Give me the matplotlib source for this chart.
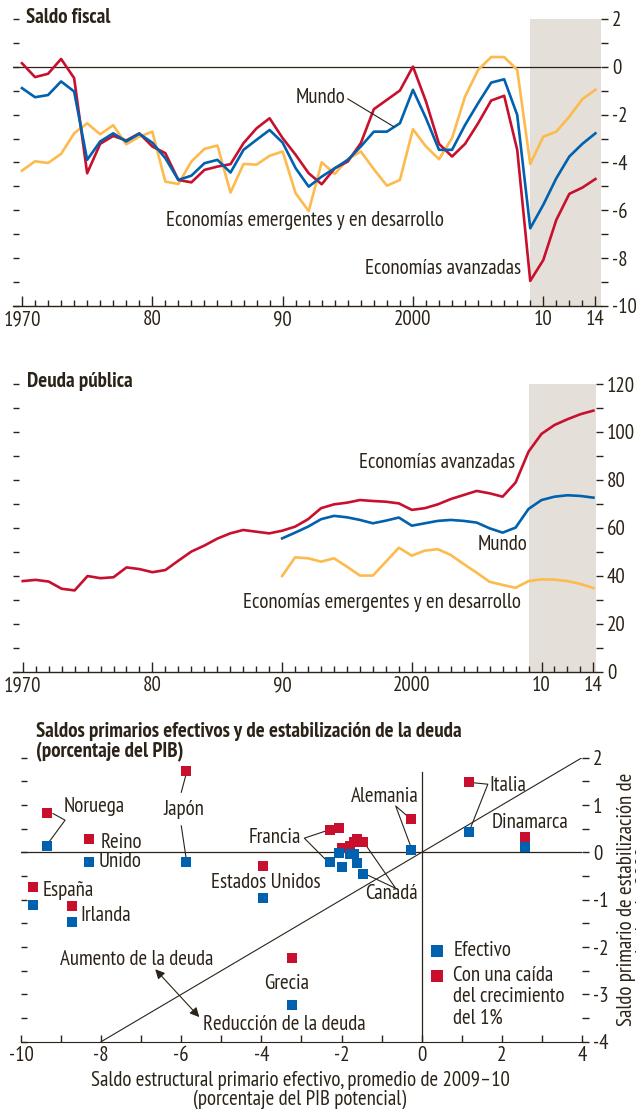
import matplotlib
matplotlib.use("Agg")
import matplotlib.pyplot as plt
import numpy as np

plt.rcParams['font.family'] = ['PT Sans Narrow', 'Roboto Condensed', 'Archivo Narrow',
                               'Roboto', 'DejaVu Sans']

RED = '#C8102E'
BLUE = '#0061AF'
YEL = '#FDBA4D'
SHADE = '#E4E0D9'
TXT = '#2B2318'

# ---------------- data: Saldo fiscal ----------------
years_fiscal = list(range(1970, 2015))
fiscal_avanzadas = [0.15, -0.43, -0.29, 0.33, -0.47, -4.45, -3.22, -2.89, -3.08, -2.78,
                    -3.33, -3.61, -4.73, -4.83, -4.31, -4.17, -4.07, -3.19, -2.57, -2.15,
                    -2.98, -3.68, -4.45, -4.91, -4.24, -3.96, -3.19, -1.77, -1.38, -0.99,
                    0.01, -1.45, -3.22, -3.75, -3.22, -2.36, -1.41, -1.21, -3.47, -8.95,
                    -8.08, -6.40, -5.31, -5.05, -4.69]
fiscal_mundo = [-0.89, -1.27, -1.18, -0.61, -1.03, -3.89, -3.12, -2.78, -3.12, -2.80,
                -3.17, -3.82, -4.73, -4.55, -4.03, -3.89, -4.42, -3.47, -3.05, -2.64,
                -3.17, -4.24, -5.01, -4.59, -4.24, -3.89, -3.33, -2.71, -2.71, -2.36,
                -0.96, -2.15, -3.47, -3.47, -2.43, -1.52, -0.66, -0.52, -2.01, -6.75,
                -5.77, -4.66, -3.75, -3.22, -2.78]
fiscal_emergentes = [-4.34, -3.95, -4.02, -3.64, -2.78, -2.36, -2.82, -2.44, -3.24, -2.92,
                     -2.71, -4.80, -4.90, -3.96, -3.43, -3.29, -5.26, -4.06, -4.09, -3.72,
                     -3.54, -5.29, -6.03, -3.99, -4.48, -3.86, -3.54, -4.28, -4.97, -4.73,
                     -2.61, -3.33, -3.86, -2.98, -1.24, -0.13, 0.41, 0.41, -0.13, -4.06,
                     -2.92, -2.71, -2.08, -1.35, -0.96]

# ---------------- data: Deuda pública ----------------
years_deuda_av = list(range(1970, 2015))
deuda_avanzadas = [37.8, 38.3, 37.6, 34.6, 33.9, 39.9, 39.0, 39.4, 43.5, 42.8,
                   41.5, 42.4, 46.3, 50.1, 52.6, 55.5, 57.7, 59.1, 58.4, 57.7,
                   58.8, 60.5, 63.6, 68.2, 69.8, 70.5, 71.6, 71.2, 70.9, 70.2,
                   67.5, 68.2, 69.8, 72.0, 73.7, 75.4, 74.4, 73.0, 78.9, 91.8,
                   99.2, 102.9, 105.3, 107.4, 108.9]
years_deuda_mundo = list(range(1990, 2015))
deuda_mundo = [55.6, 58.0, 60.5, 63.6, 65.0, 64.4, 63.3, 61.9, 63.0, 64.3,
               60.9, 61.9, 62.9, 63.3, 62.9, 62.2, 59.8, 58.0, 60.1, 67.9,
               71.6, 73.0, 73.6, 73.3, 72.6]
deuda_emergentes = [39.9, 47.7, 47.3, 45.9, 47.3, 43.8, 40.1, 40.1, 45.9, 51.7,
                    48.4, 50.5, 51.1, 48.7, 44.9, 41.3, 37.5, 36.2, 35.0, 37.8,
                    38.5, 38.4, 37.8, 36.6, 34.9]

# ---------------- data: scatter ----------------
countries = ['Noruega', 'Reino Unido', 'Japón', 'España', 'Irlanda', 'Estados Unidos',
             'Grecia', 'Francia', 'C1', 'C2', 'C3', 'C4', 'C5', 'Canadá',
             'Alemania', 'Italia', 'Dinamarca']
sc_x = [-9.35, -8.31, -5.88, -9.71, -8.73, -3.96, -3.24, -2.29, -2.07, -1.98, -1.80,
        -1.68, -1.61, -1.46, -0.26, 1.19, 2.58]
sc_efectivo = [0.14, -0.20, -0.20, -1.11, -1.47, -0.96, -3.22, -0.20, -0.02, -0.30,
               -0.03, -0.03, -0.22, -0.45, 0.06, 0.44, 0.12]
sc_caida = [0.84, 0.29, 1.72, -0.73, -1.13, -0.28, -2.24, 0.48, 0.51, 0.09,
            0.14, 0.22, 0.29, 0.22, 0.71, 1.49, 0.33]

W, H = 636, 1109
fig = plt.figure(figsize=(W / 100, H / 100), dpi=100)
FS = 15


def axrect(l, r, t, b):
    return [l / W, 1 - b / H, (r - l) / W, (b - t) / H]


def style_ts(ax, ylim, ymaj, ymin_step, xlim, shade_from):
    ax.set_xlim(*xlim)
    ax.set_ylim(*ylim)
    ax.axvspan(shade_from, xlim[1], color=SHADE, lw=0, zorder=0)
    for s in ['top', 'right', 'left']:
        ax.spines[s].set_visible(False)
    ax.spines['bottom'].set_color(TXT)
    ax.spines['bottom'].set_linewidth(1.0)
    ax.set_xticks([1970, 1980, 1990, 2000, 2010, 2014])
    ax.set_xticklabels(['1970', '80', '90', '2000', '10', '14'])
    ax.set_xticks(range(1970, 2015), minor=True)
    ax.tick_params(axis='x', which='major', direction='in', length=7, width=1, color=TXT,
                   labelsize=FS, labelcolor=TXT, pad=3)
    ax.tick_params(axis='x', which='minor', direction='in', length=4, width=1, color=TXT)
    yt = np.arange(ylim[0], ylim[1] + 0.001, ymin_step)
    ax.set_yticks(yt)
    ax.tick_params(axis='y', direction='in', length=4, width=1, color=TXT, labelleft=False)
    ax2 = ax.twinx()
    ax2.set_ylim(*ylim)
    for s in ['top', 'right', 'left', 'bottom']:
        ax2.spines[s].set_visible(False)
    ax2.set_yticks(ymaj)
    ax2.set_yticklabels([str(v) for v in ymaj])
    ax2.set_yticks(yt, minor=True)
    ax2.tick_params(axis='y', which='both', direction='out', length=5, width=1, color=TXT,
                    labelsize=FS, labelcolor=TXT, pad=3)
    return ax2


# ---------------- Panel 1 ----------------
ax1 = fig.add_axes(axrect(13, 601, 19, 306))
style_ts(ax1, (-10, 2), list(range(-10, 3, 2)), 1, (1969.31, 2014.43), 2009)
ax1.axhline(0, color=TXT, lw=0.9, zorder=1)
ax1.plot(years_fiscal, fiscal_emergentes, color=YEL, lw=1.9, zorder=3)
ax1.plot(years_fiscal, fiscal_avanzadas, color=RED, lw=1.9, zorder=4)
ax1.plot(years_fiscal, fiscal_mundo, color=BLUE, lw=1.9, zorder=5)
ax1.text(1970.3, 2.05, 'Saldo fiscal', fontsize=FS, fontweight='bold', color=TXT,
         va='center', ha='left')
ax1.text(1994.8, -1.3, 'Mundo', fontsize=FS, color=TXT, va='center', ha='right')
ax1.plot([1995.0, 1998.55], [-1.34, -2.51], color=TXT, lw=0.8, zorder=6)
ax1.text(1991.7, -6.44, 'Economías emergentes y en desarrollo', fontsize=FS, color=TXT,
         va='center', ha='center')
ax1.text(2008.3, -8.45, 'Economías avanzadas', fontsize=FS, color=TXT,
         va='center', ha='right')

# ---------------- Panel 2 ----------------
ax2 = fig.add_axes(axrect(13, 596, 384, 671.7))
style_ts(ax2, (0, 120), list(range(0, 121, 20)), 10, (1969.25, 2014.2), 2009)
ax2.plot(years_deuda_mundo, deuda_emergentes, color=YEL, lw=1.9, zorder=3)
ax2.plot(years_deuda_mundo, deuda_mundo, color=BLUE, lw=1.9, zorder=4)
ax2.plot(years_deuda_av, deuda_avanzadas, color=RED, lw=1.9, zorder=5)
ax2.text(1970.3, 120.9, 'Deuda pública', fontsize=FS, fontweight='bold', color=TXT,
         va='center', ha='left')
ax2.text(2007.96, 87.1, 'Economías avanzadas', fontsize=FS, color=TXT, va='center', ha='right')
ax2.text(2008.9, 52.9, 'Mundo', fontsize=FS, color=TXT, va='center', ha='right')
ax2.text(2008.4, 28.7, 'Economías emergentes y en desarrollo', fontsize=FS, color=TXT,
         va='center', ha='right')

# ---------------- Panel 3 ----------------
ax3 = fig.add_axes(axrect(21, 582, 757.7, 1041.7))
ax3.set_xlim(-10, 4)
ax3.set_ylim(-4, 2)
for s in ['top', 'right', 'left']:
    ax3.spines[s].set_visible(False)
ax3.spines['bottom'].set_color(TXT)
ax3.set_xticks(range(-10, 5, 2))
ax3.set_xticklabels([str(v) for v in range(-10, 5, 2)])
ax3.set_xticks(range(-10, 5), minor=True)
ax3.tick_params(axis='x', which='both', direction='in', length=5, width=1, color=TXT,
                labelsize=FS, labelcolor=TXT, pad=3)
yt3 = np.arange(-4, 2.01, 0.5)
ax3.set_yticks(yt3)
ax3.tick_params(axis='y', direction='in', length=4, width=1, color=TXT, labelleft=False)
ax3b = ax3.twinx()
ax3b.set_ylim(-4, 2)
for s in ['top', 'right', 'left', 'bottom']:
    ax3b.spines[s].set_visible(False)
ax3b.set_yticks(range(-4, 3))
ax3b.set_yticklabels([str(v) for v in range(-4, 3)])
ax3b.set_yticks(yt3, minor=True)
ax3b.tick_params(axis='y', which='both', direction='out', length=5, width=1, color=TXT,
                 labelsize=FS, labelcolor=TXT, pad=3)
ax3b.set_ylabel('Saldo primario de estabilización de\nla deuda, 2009', fontsize=FS,
                color=TXT, labelpad=6, linespacing=0.95)

ax3.axhline(0, color=TXT, lw=0.9, zorder=1)
ax3.plot([0, 0], [-4, 1.7], color=TXT, lw=0.9, zorder=1)
ax3.plot([-8, 4], [-4, 2], color=TXT, lw=0.8, zorder=1)

ax3.scatter(sc_x, sc_caida, marker='s', s=60, color=RED, lw=0, zorder=3)
ax3.scatter(sc_x, sc_efectivo, marker='s', s=60, color=BLUE, lw=0, zorder=4)

ax3.text(-9.62, 2.56, 'Saldos primarios efectivos y de estabilización de la deuda',
         fontsize=FS, fontweight='bold', color=TXT, ha='left', va='center', clip_on=False)
ax3.text(-9.62, 2.12, '(porcentaje del PIB)', fontsize=FS, fontweight='bold', color=TXT,
         ha='left', va='center', clip_on=False)

lk = dict(color=TXT, lw=0.8, zorder=2)
ax3.text(-8.93, 0.96, 'Noruega', fontsize=FS, color=TXT, va='center')
ax3.plot([-9.2, -8.9, -9.3], [0.82, 0.68, 0.22], **lk)
ax3.text(-8.01, 0.2, 'Reino', fontsize=FS, color=TXT, va='center')
ax3.text(-8.06, -0.2, 'Unido', fontsize=FS, color=TXT, va='center')
ax3.text(-5.94, 0.9, 'Japón', fontsize=FS, color=TXT, va='center', ha='center')
ax3.plot([-5.88, -6.0], [1.65, 1.27], **lk)
ax3.plot([-6.0, -5.88], [0.56, -0.12], **lk)
ax3.text(-9.46, -0.80, 'España', fontsize=FS, color=TXT, va='center')
ax3.text(-8.51, -1.34, 'Irlanda', fontsize=FS, color=TXT, va='center')
ax3.text(-5.26, -0.63, 'Estados Unidos', fontsize=FS, color=TXT, va='center', ha='left')
ax3.text(-3.36, -2.76, 'Grecia', fontsize=FS, color=TXT, va='center', ha='center')
ax3.text(-3.01, 0.32, 'Francia', fontsize=FS, color=TXT, va='center', ha='right')
ax3.plot([-2.4, -2.93, -2.4], [0.45, 0.30, -0.15], **lk)
ax3.text(-1.41, -0.86, 'Canadá', fontsize=FS, color=TXT, va='center', ha='left')
ax3.plot([-1.4, -0.65, -1.35], [0.16, -0.76, -0.48], **lk)
ax3.text(-1.76, 1.17, 'Alemania', fontsize=FS, color=TXT, va='center', ha='left')
ax3.plot([-0.35, -0.65, -0.28], [0.76, 0.98, 0.14], **lk)
ax3.text(1.69, 1.42, 'Italia', fontsize=FS, color=TXT, va='center', ha='left')
ax3.plot([1.3, 1.65, 1.22], [1.47, 1.44, 0.52], **lk)
ax3.text(1.74, 0.64, 'Dinamarca', fontsize=FS, color=TXT, va='center', ha='left')
ax3.text(-9.03, -2.27, 'Aumento de la deuda', fontsize=FS, color=TXT, va='center')
ax3.text(-5.46, -3.63, 'Reducción de la deuda', fontsize=FS, color=TXT, va='center')
ax3.annotate('', xy=(-6.65, -2.47), xytext=(-5.55, -3.48),
             arrowprops=dict(arrowstyle='<|-|>', color=TXT, lw=0.8,
                             mutation_scale=14, shrinkA=0, shrinkB=0))

ax3.scatter([0.37], [-2.08], marker='s', s=80, color=BLUE, lw=0, clip_on=False)
ax3.scatter([0.37], [-2.61], marker='s', s=80, color=RED, lw=0, clip_on=False)
ax3.text(0.79, -2.08, 'Efectivo', fontsize=FS, color=TXT, va='center')
ax3.text(0.79, -2.61, 'Con una caída', fontsize=FS, color=TXT, va='center')
ax3.text(0.79, -3.05, 'del crecimiento', fontsize=FS, color=TXT, va='center')
ax3.text(0.79, -3.50, 'del 1%', fontsize=FS, color=TXT, va='center')

fig.text(300 / W, 1 - 1080 / H, 'Saldo estructural primario efectivo, promedio de 2009–10',
         fontsize=FS, color=TXT, ha='center', va='center')
fig.text(300 / W, 1 - 1100 / H, '(porcentaje del PIB potencial)',
         fontsize=FS, color=TXT, ha='center', va='center')

fig.savefig('out.png', dpi=100)
